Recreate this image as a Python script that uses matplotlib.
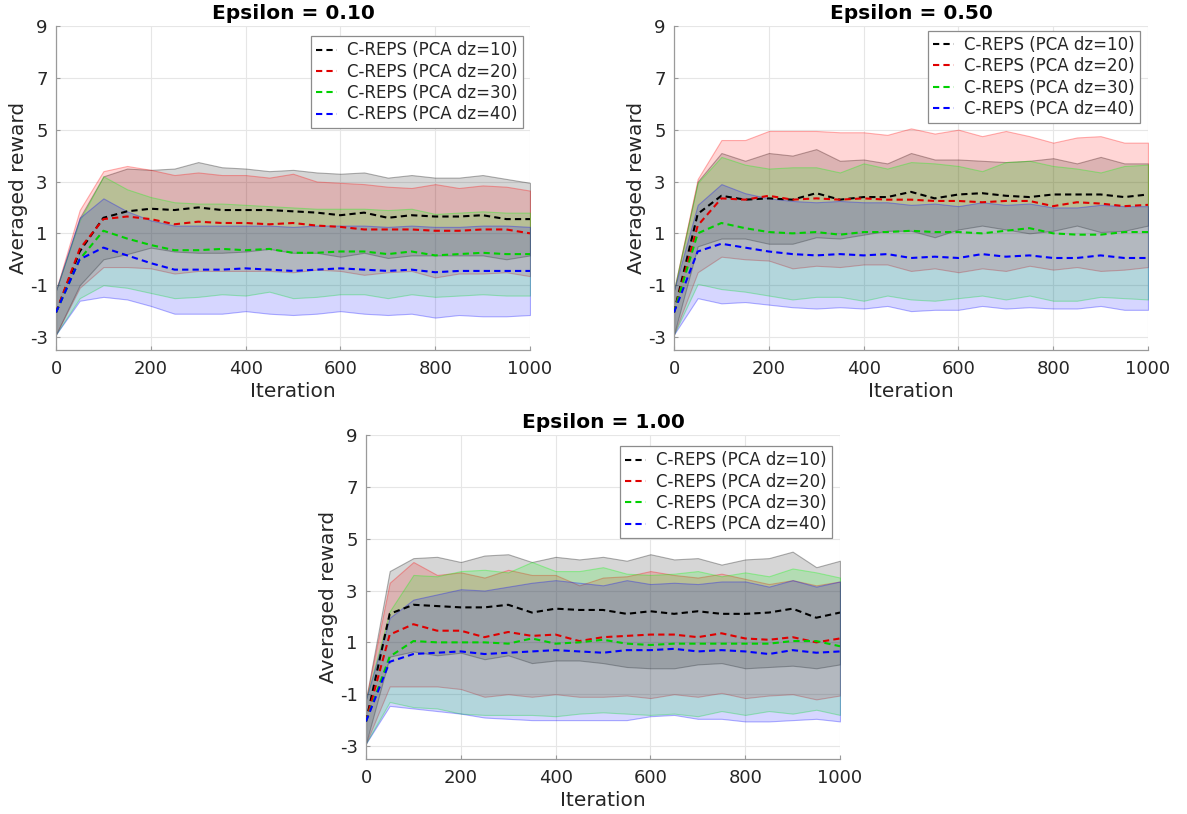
import numpy as np
import matplotlib
matplotlib.use("Agg")
import matplotlib.pyplot as plt

# ---------------- data ----------------
iterations = list(range(0, 1001, 50))
series_labels = ["C-REPS (PCA dz=10)", "C-REPS (PCA dz=20)",
                 "C-REPS (PCA dz=30)", "C-REPS (PCA dz=40)"]
titles = ["Epsilon = 0.10", "Epsilon = 0.50", "Epsilon = 1.00"]
y_ticks = [-3, -1, 1, 3, 5, 7, 9]
x_ticks = [0, 200, 400, 600, 800, 1000]

# Epsilon = 0.10
e010_mean_dz10 = [-2.05, 0.3, 1.6, 1.85, 1.95, 1.9, 2.0, 1.9, 1.9, 1.9, 1.85, 1.8, 1.7, 1.8, 1.6, 1.7, 1.65, 1.65, 1.7, 1.55, 1.55]
e010_std_dz10 = [0.85, 1.3, 1.6, 1.65, 1.5, 1.6, 1.75, 1.65, 1.6, 1.5, 1.6, 1.55, 1.6, 1.55, 1.55, 1.55, 1.5, 1.5, 1.55, 1.55, 1.4]
e010_mean_dz20 = [-2.05, 0.4, 1.55, 1.65, 1.55, 1.35, 1.45, 1.4, 1.4, 1.35, 1.4, 1.3, 1.25, 1.15, 1.15, 1.15, 1.1, 1.1, 1.15, 1.15, 1.0]
e010_std_dz20 = [0.85, 1.5, 1.85, 1.95, 1.9, 1.9, 1.9, 1.85, 1.85, 1.8, 1.9, 1.7, 1.7, 1.75, 1.65, 1.6, 1.8, 1.65, 1.7, 1.65, 1.65]
e010_mean_dz30 = [-2.05, 0.0, 1.1, 0.8, 0.55, 0.35, 0.35, 0.4, 0.35, 0.4, 0.25, 0.25, 0.3, 0.3, 0.2, 0.3, 0.15, 0.2, 0.25, 0.2, 0.2]
e010_std_dz30 = [0.85, 1.5, 2.1, 1.9, 1.85, 1.85, 1.8, 1.75, 1.75, 1.65, 1.75, 1.7, 1.65, 1.65, 1.7, 1.65, 1.6, 1.6, 1.6, 1.6, 1.6]
e010_mean_dz40 = [-2.05, 0.0, 0.45, 0.15, -0.15, -0.4, -0.4, -0.4, -0.35, -0.4, -0.45, -0.4, -0.35, -0.4, -0.45, -0.4, -0.5, -0.45, -0.45, -0.45, -0.45]
e010_std_dz40 = [0.85, 1.6, 1.9, 1.7, 1.65, 1.7, 1.7, 1.7, 1.65, 1.7, 1.7, 1.7, 1.65, 1.7, 1.7, 1.7, 1.75, 1.7, 1.75, 1.75, 1.7]

# Epsilon = 0.50
e050_mean_dz10 = [-2.05, 1.75, 2.45, 2.3, 2.35, 2.3, 2.55, 2.3, 2.4, 2.4, 2.6, 2.35, 2.5, 2.55, 2.45, 2.4, 2.5, 2.5, 2.5, 2.4, 2.5]
e050_std_dz10 = [0.85, 1.25, 1.65, 1.5, 1.75, 1.7, 1.7, 1.5, 1.45, 1.3, 1.5, 1.5, 1.35, 1.25, 1.3, 1.4, 1.4, 1.2, 1.45, 1.3, 1.2]
e050_mean_dz20 = [-2.05, 1.3, 2.35, 2.3, 2.45, 2.3, 2.35, 2.3, 2.35, 2.3, 2.3, 2.25, 2.25, 2.2, 2.25, 2.25, 2.05, 2.2, 2.15, 2.05, 2.1]
e050_std_dz20 = [0.85, 1.8, 2.25, 2.3, 2.5, 2.65, 2.6, 2.6, 2.55, 2.5, 2.75, 2.6, 2.75, 2.55, 2.7, 2.5, 2.45, 2.5, 2.6, 2.45, 2.4]
e050_mean_dz30 = [-2.05, 1.0, 1.4, 1.2, 1.05, 1.0, 1.05, 0.95, 1.05, 1.05, 1.1, 1.05, 1.05, 1.0, 1.1, 1.2, 1.0, 0.95, 0.95, 1.05, 1.05]
e050_std_dz30 = [0.85, 1.95, 2.55, 2.45, 2.45, 2.55, 2.5, 2.4, 2.65, 2.45, 2.65, 2.65, 2.55, 2.4, 2.65, 2.6, 2.6, 2.55, 2.4, 2.55, 2.6]
e050_mean_dz40 = [-2.05, 0.3, 0.6, 0.45, 0.3, 0.2, 0.15, 0.2, 0.15, 0.2, 0.05, 0.1, 0.05, 0.2, 0.1, 0.15, 0.05, 0.05, 0.15, 0.05, 0.05]
e050_std_dz40 = [0.85, 1.8, 2.3, 2.1, 2.05, 2.05, 2.05, 2.05, 2.05, 2.0, 2.05, 2.05, 2.0, 2.0, 2.0, 2.0, 1.95, 1.95, 1.95, 2.0, 2.0]

# Epsilon = 1.00
e100_mean_dz10 = [-2.05, 2.1, 2.45, 2.4, 2.35, 2.35, 2.45, 2.15, 2.3, 2.25, 2.25, 2.1, 2.2, 2.1, 2.2, 2.1, 2.1, 2.15, 2.3, 1.95, 2.15]
e100_std_dz10 = [0.85, 1.65, 1.8, 1.9, 1.75, 2.0, 1.95, 1.95, 2.0, 1.95, 2.05, 2.05, 2.2, 2.1, 2.05, 1.9, 2.1, 2.1, 2.2, 1.95, 2.0]
e100_mean_dz20 = [-2.05, 1.3, 1.7, 1.45, 1.45, 1.2, 1.4, 1.25, 1.3, 1.05, 1.2, 1.25, 1.3, 1.3, 1.2, 1.35, 1.15, 1.1, 1.2, 1.0, 1.15]
e100_std_dz20 = [0.85, 2.0, 2.4, 2.15, 2.25, 2.3, 2.4, 2.35, 2.3, 2.15, 2.3, 2.3, 2.45, 2.3, 2.3, 2.3, 2.3, 2.15, 2.2, 2.2, 2.2]
e100_mean_dz30 = [-2.05, 0.45, 1.05, 1.0, 1.0, 1.0, 0.95, 1.15, 0.95, 1.0, 1.1, 0.95, 0.9, 0.95, 0.95, 0.95, 0.95, 0.95, 1.05, 1.05, 0.85]
e100_std_dz30 = [0.85, 1.75, 2.55, 2.55, 2.75, 2.8, 2.75, 2.95, 2.8, 2.75, 2.8, 2.7, 2.7, 2.7, 2.8, 2.6, 2.75, 2.6, 2.8, 2.65, 2.65]
e100_mean_dz40 = [-2.05, 0.25, 0.55, 0.6, 0.65, 0.55, 0.6, 0.65, 0.7, 0.65, 0.6, 0.7, 0.7, 0.75, 0.65, 0.7, 0.65, 0.55, 0.7, 0.6, 0.65]
e100_std_dz40 = [0.85, 1.7, 2.1, 2.25, 2.4, 2.45, 2.55, 2.65, 2.7, 2.65, 2.6, 2.7, 2.55, 2.55, 2.6, 2.65, 2.7, 2.6, 2.7, 2.55, 2.7]

panels = [
    ([e010_mean_dz10, e010_mean_dz20, e010_mean_dz30, e010_mean_dz40],
     [e010_std_dz10, e010_std_dz20, e010_std_dz30, e010_std_dz40]),
    ([e050_mean_dz10, e050_mean_dz20, e050_mean_dz30, e050_mean_dz40],
     [e050_std_dz10, e050_std_dz20, e050_std_dz30, e050_std_dz40]),
    ([e100_mean_dz10, e100_mean_dz20, e100_mean_dz30, e100_mean_dz40],
     [e100_std_dz10, e100_std_dz20, e100_std_dz30, e100_std_dz40]),
]

# ---------------- style ----------------
line_colors = ["#000000", "#e00000", "#00d000", "#0000ff"]
fill_colors = ["#000000", "#ff0000", "#00ff00", "#0000ff"]
text_color = "#262626"
axis_color = "#9a9a9a"

plt.rcParams["font.family"] = ["DejaVu Sans"]
plt.rcParams["axes.unicode_minus"] = False

W, H = 1187, 814
fig = plt.figure(figsize=(W / 100, H / 100), dpi=100)

# axes rectangles in pixels: left, top, right, bottom ; legend anchor
rects = [
    (56, 26, 530, 350, (0.985, 0.968)),
    (674, 26, 1148, 350, (0.983, 0.985)),
    (366, 435, 840, 759, (0.983, 0.965)),
]

x = np.array(iterations)
for (means, stds), title, (l, t, r, b, anchor) in zip(panels, titles, rects):
    ax = fig.add_axes([l / W, (H - b) / H, (r - l) / W, (b - t) / H])
    for m, sd, fc in zip(means, stds, fill_colors):
        m = np.array(m)
        sd = np.array(sd)
        ax.fill_between(x, m - sd, m + sd, facecolor=matplotlib.colors.to_rgba(fc, 0.16),
                        edgecolor=matplotlib.colors.to_rgba(fc, 0.3), linewidth=0.8, zorder=2)
    for m, lc, lab in zip(means, line_colors, series_labels):
        ax.plot(x, m, color=lc, linestyle=(0, (3, 2)), linewidth=1.5, label=lab, zorder=3)

    ax.set_xlim(0, 1000)
    ax.set_ylim(-3.5, 9)
    ax.set_xticks(x_ticks)
    ax.set_yticks(y_ticks)
    ax.grid(True, color="#e6e6e6", linewidth=0.8, zorder=0)
    ax.set_axisbelow(True)
    for side in ["top", "right"]:
        ax.spines[side].set_visible(False)
    for side in ["left", "bottom"]:
        ax.spines[side].set_color(axis_color)
        ax.spines[side].set_linewidth(0.9)
    ax.tick_params(direction="in", length=3, color=axis_color, labelcolor=text_color,
                   labelsize=13)
    ax.tick_params(axis="x", pad=7)
    ax.tick_params(axis="y", pad=6)
    ax.set_xlabel("Iteration", fontsize=14.5, color=text_color, labelpad=3)
    ax.set_ylabel("Averaged reward", fontsize=14.5, color=text_color, labelpad=1)
    ax.set_title(title, fontsize=14.5, fontweight="bold", color="#000000", pad=5)
    leg = ax.legend(loc="upper right", bbox_to_anchor=anchor, borderaxespad=0,
                    fontsize=12, handlelength=1.3, handletextpad=0.6,
                    labelspacing=0.2, borderpad=0.3, fancybox=False, framealpha=1,
                    edgecolor="#8c8c8c")
    leg.get_frame().set_linewidth(0.9)
    for txt in leg.get_texts():
        txt.set_color(text_color)

fig.savefig("out.png", dpi=100)
